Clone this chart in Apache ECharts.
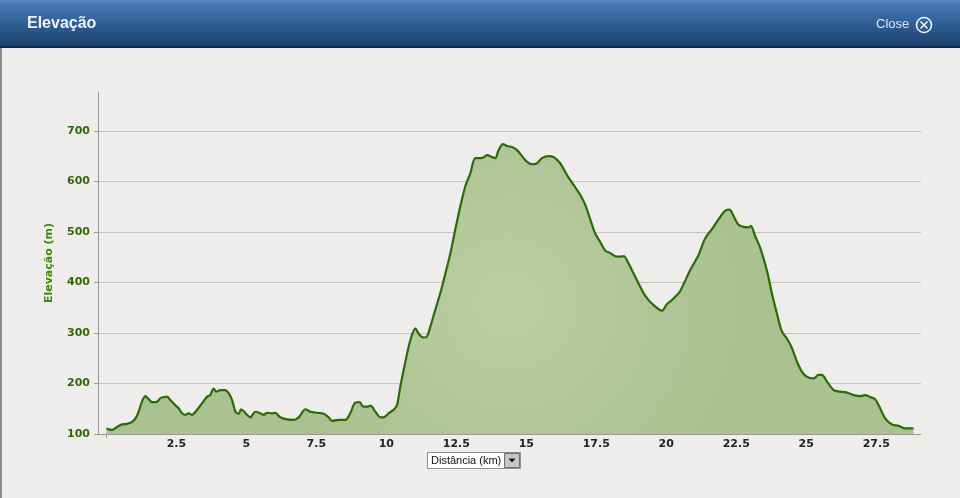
<!DOCTYPE html>
<html>
<head>
<meta charset="utf-8">
<script src="https://cdn.jsdelivr.net/npm/echarts@6/dist/echarts.min.js"></script>
<style>
html,body{margin:0;padding:0;background:#efedeb;}
#c{width:960px;height:498px;}
</style>
</head>
<body>
<div id="c"></div>
<script>
const distKm = [0,0.2,0.38,0.56,0.74,0.92,1.04,1.15,1.27,1.39,1.51,1.63,1.81,1.93,2.05,2.17,2.29,2.46,2.58,2.70,2.82,2.94,3.06,3.24,3.42,3.60,3.71,3.83,3.93,4.07,4.25,4.37,4.49,4.61,4.73,4.81,4.93,5.02,5.14,5.32,5.5,5.62,5.74,5.92,6.04,6.21,6.45,6.69,6.87,7.11,7.29,7.52,7.76,7.94,8.06,8.30,8.54,8.71,8.89,9.05,9.17,9.31,9.43,9.61,9.79,9.90,10.08,10.26,10.38,10.5,10.68,10.86,11.04,11.15,11.33,11.45,11.57,11.75,11.93,12.11,12.29,12.46,12.64,12.82,13.0,13.18,13.36,13.48,13.60,13.71,13.89,14.01,14.17,14.31,14.49,14.67,14.85,15.02,15.2,15.38,15.56,15.80,15.98,16.21,16.45,16.69,16.93,17.11,17.29,17.46,17.64,17.82,18.0,18.18,18.36,18.48,18.65,18.83,19.01,19.19,19.37,19.55,19.73,19.85,20.02,20.20,20.38,20.5,20.86,21.15,21.39,21.69,21.93,22.11,22.26,22.4,22.58,22.76,22.94,23.02,23.18,23.36,23.54,23.65,23.77,23.95,24.13,24.31,24.49,24.67,24.85,25.03,25.26,25.44,25.56,25.74,25.98,26.21,26.45,26.69,26.93,27.11,27.29,27.46,27.64,27.82,28.06,28.3,28.54,28.83];
const elevM = [111,108,114,119,120,124,131,144,164,175,169,163,164,171,173,174,167,157,151,141,138,141,138,148,161,174,177,190,184,187,187,181,167,144,140,149,144,138,133,144,141,138,142,141,142,133,129,128,133,149,144,142,140,133,126,128,128,141,162,163,154,154,156,144,133,133,141,148,157,194,243,286,309,299,291,293,312,346,379,418,458,504,550,590,616,646,646,648,652,650,646,662,674,670,668,662,650,639,634,636,646,650,648,636,613,593,573,553,524,497,480,463,458,452,451,452,438,418,398,379,365,355,347,344,357,365,375,383,425,454,487,510,530,542,544,532,514,510,509,512,491,468,435,411,379,339,303,289,270,243,223,213,210,217,217,204,187,184,182,177,175,177,173,169,151,131,119,116,111,111];
const xTickValues = [2.5,5,7.5,10,12.5,15,17.5,20,22.5,25,27.5];
const xTickLabels = ['2.5','5','7.5','10','12.5','15','17.5','20','22.5','25','27.5'];
const yTickValues = [100,200,300,400,500,600,700];
const yTickLabels = ['100','200','300','400','500','600','700'];

const seriesData = distKm.map((d,i)=>[d, elevM[i]]);

const chart = echarts.init(document.getElementById('c'), null, {renderer:'canvas'});
chart.setOption({
  backgroundColor:'#efedeb',
  animation:false,
  grid:{left:98,right:39,top:92,bottom:64},
  xAxis:{
    type:'value', min:-0.3, max:29.1,
    axisLine:{show:true,onZero:false,lineStyle:{color:'#9b9896',width:1}},
    axisTick:{show:true,customValues:[0],length:4,lineStyle:{color:'#9b9896'}},
    axisLabel:{customValues:xTickValues, formatter:(v)=>xTickLabels[xTickValues.indexOf(v)] ?? '', color:'#222', fontFamily:'DejaVu Sans', fontWeight:'bold', fontSize:11, margin:5},
    splitLine:{show:false}
  },
  yAxis:{
    type:'value', min:100, max:777,
    name:'Elevação (m)', nameLocation:'middle', nameGap:43, nameRotate:90,
    nameTextStyle:{color:'#3d8a06',fontFamily:'DejaVu Sans',fontWeight:'bold',fontSize:11},
    axisLine:{show:true,onZero:false,lineStyle:{color:'#9b9896',width:1}},
    axisTick:{show:true,customValues:yTickValues,length:4,lineStyle:{color:'#9b9896'}},
    axisLabel:{customValues:yTickValues, formatter:(v)=>yTickLabels[yTickValues.indexOf(v)] ?? '', color:'#2c6a00', fontFamily:'DejaVu Sans', fontWeight:'bold', fontSize:11, margin:8},
    splitLine:{show:true, showMinLine:false, lineStyle:{color:'#c6c3c1',width:1}}
  },
  series:[{
    type:'line', data:seriesData, showSymbol:false, smooth:0.3,
    lineStyle:{color:'#2a6b05',width:2.2},
    areaStyle:{origin:'start', color:new echarts.graphic.RadialGradient(0.5,0.55,0.8,[{offset:0,color:'#bccda3'},{offset:1,color:'#aac191'}]), opacity:1}
  }],
  graphic:[
    {type:'rect', left:0, top:0, shape:{width:960,height:48}, z:10,
      style:{fill:new echarts.graphic.LinearGradient(0,0,0,1,[{offset:0,color:'#5b8fc6'},{offset:0.08,color:'#4679b2'},{offset:0.5,color:'#2f5e94'},{offset:1,color:'#1a3d6b'}])}},
    {type:'rect', left:0, top:46, shape:{width:960,height:2}, z:11, style:{fill:'#11294a'}},
    {type:'rect', left:0, top:48, shape:{width:2,height:450}, z:11, style:{fill:'#8f8a86'}},
    {type:'text', left:27, top:16, z:12, style:{text:'Elevação', fill:'#eef2f7', font:'bold 16px "Liberation Sans", Arial, sans-serif'}},
    {type:'text', left:876, top:18, z:12, style:{text:'Close', fill:'#dbe5f0', font:'13px "Liberation Sans", Arial, sans-serif'}},
    {type:'circle', shape:{cx:924,cy:25,r:7.5}, z:12, style:{fill:'none',stroke:'#f2f5f9',lineWidth:1.6}},
    {type:'line', shape:{x1:920.5,y1:21.5,x2:927.5,y2:28.5}, z:12, style:{stroke:'#f2f5f9',lineWidth:1.6}},
    {type:'line', shape:{x1:927.5,y1:21.5,x2:920.5,y2:28.5}, z:12, style:{stroke:'#f2f5f9',lineWidth:1.6}},
    {type:'rect', shape:{x:427.5,y:452.5,width:93,height:16}, z:12, style:{fill:'#ffffff',stroke:'#8d8d8d',lineWidth:1}},
    {type:'text', left:431, top:455, z:13, style:{text:'Distância (km)', fill:'#111', font:'11px "Liberation Sans", Arial, sans-serif'}},
    {type:'rect', shape:{x:504.5,y:453.5,width:15,height:14}, z:13, style:{fill:'#c9c7c5',stroke:'#6d6d6d',lineWidth:1}},
    {type:'polygon', shape:{points:[[508.5,458.5],[515.5,458.5],[512,462.5]]}, z:14, style:{fill:'#111'}}
  ]
});
</script>
</body>
</html>
